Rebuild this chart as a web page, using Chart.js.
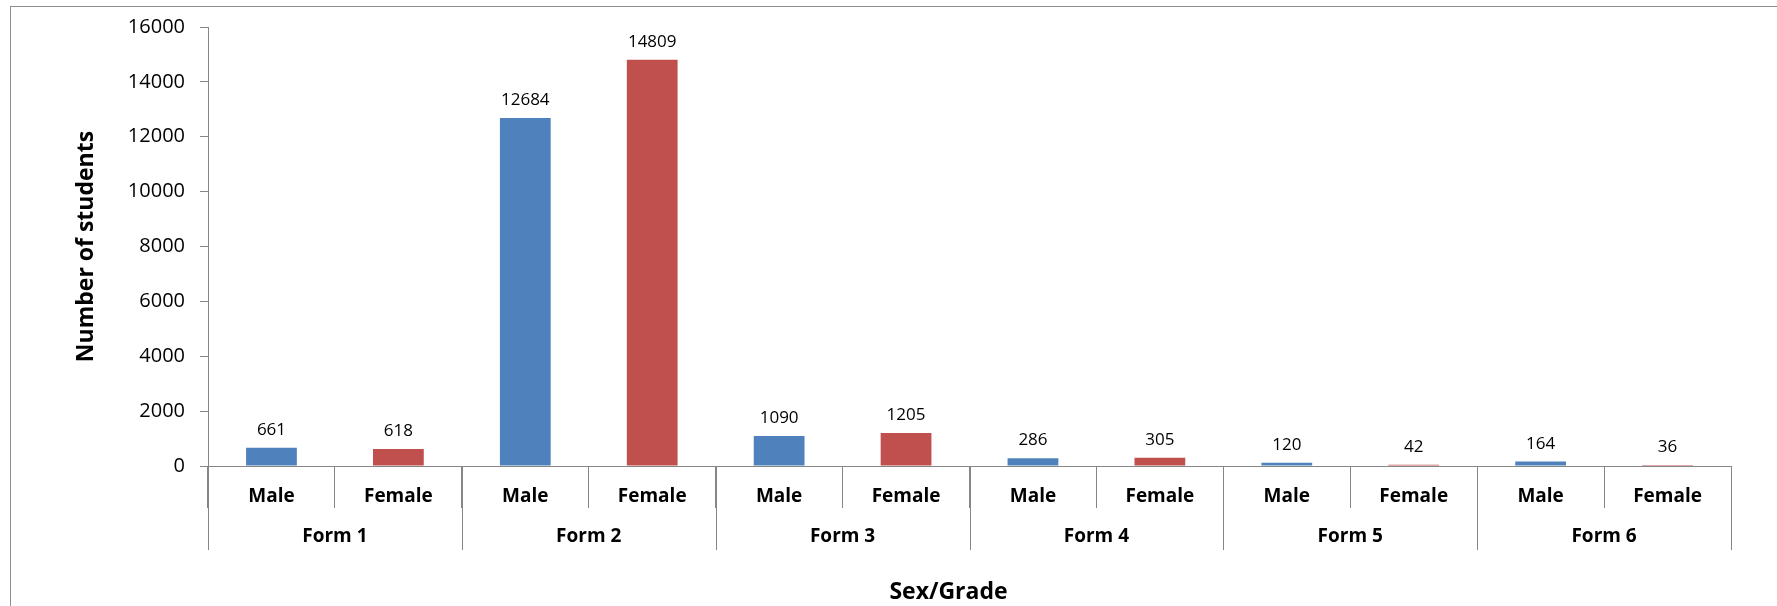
<!DOCTYPE html>
<html lang="en">
<head>
    <meta charset="UTF-8">
    <title>Students by sex and grade</title>
    <script src="https://cdn.jsdelivr.net/npm/chart.js@4.4.0/dist/chart.umd.min.js"></script>
    <style>
        body { margin: 0; overflow: hidden; background: #fff; }
        .frame { position: absolute; left: 10px; top: 6px; width: 1900px; height: 800px; border: 1.5px solid #8e8e8e; }
        .wrap { position: absolute; left: 0; top: 0; width: 1777px; height: 606px; }
    </style>
</head>
<body>
    <div class="frame"></div>
    <div class="wrap">
        <canvas id="chart-students"></canvas>
    </div>

    <script>
        const forms = ['Form 1', 'Form 2', 'Form 3', 'Form 4', 'Form 5', 'Form 6'];
        const sexes = ['Male', 'Female'];
        // male, female per form
        const students = [661, 618, 12684, 14809, 1090, 1205, 286, 305, 120, 42, 164, 36];
        const yTicks = [0, 2000, 4000, 6000, 8000, 10000, 12000, 14000, 16000];

        const sexColors = { Male: '#4f81bd', Female: '#c0504d' };
        const labels = [];
        forms.forEach(() => sexes.forEach(s => labels.push(s)));

        const font = '"Open Sans", "Liberation Sans", sans-serif';
        const axisGrey = '#868686';

        // bar values, the form row under the sex labels and the x title
        const extras = {
            id: 'extras',
            afterDraw(chart) {
                const ctx = chart.ctx;
                const x = chart.scales.x;
                const area = chart.chartArea;
                ctx.save();

                ctx.fillStyle = '#000';
                ctx.textAlign = 'center';
                ctx.textBaseline = 'alphabetic';
                ctx.font = '17px ' + font;
                chart.getDatasetMeta(0).data.forEach((bar, i) => {
                    ctx.fillText(students[i], bar.x, bar.y - 13);
                });

                const groupW = x.width / forms.length;
                ctx.strokeStyle = axisGrey;
                ctx.lineWidth = 1;
                ctx.beginPath();
                for (let g = 0; g <= forms.length; g++) {
                    const px = Math.round(x.left + g * groupW) + 0.5;
                    ctx.moveTo(px, x.top);
                    ctx.lineTo(px, x.top + 84);
                }
                ctx.stroke();

                ctx.font = 'bold 19px ' + font;
                ctx.textBaseline = 'middle';
                forms.forEach((f, g) => {
                    ctx.fillText(f, x.left + (g + 0.5) * groupW, x.top + 71);
                });

                ctx.font = 'bold 23px ' + font;
                ctx.fillText('Sex/Grade', (area.left + area.right) / 2 - 21, x.top + 126);
                ctx.restore();
            }
        };

        const ctx = document.getElementById('chart-students').getContext('2d');
        const myChart = new Chart(ctx, {
            type: 'bar',
            data: {
                labels: labels,
                datasets: [{
                    data: students,
                    backgroundColor: labels.map(s => sexColors[s]),
                    borderWidth: 0,
                    barPercentage: 0.4,
                    categoryPercentage: 1.0
                }]
            },
            options: {
                responsive: true,
                maintainAspectRatio: false,
                animation: false,
                layout: { padding: { left: 0, top: 26, right: 46, bottom: 0 } },
                plugins: {
                    legend: { display: false },
                    tooltip: { enabled: false }
                },
                scales: {
                    x: {
                        afterFit: (scale) => { scale.height = 140; },
                        grid: {
                            offset: true,
                            drawOnChartArea: false,
                            tickLength: 42,
                            color: axisGrey
                        },
                        border: { color: axisGrey },
                        ticks: {
                            color: '#000',
                            padding: -23,
                            maxRotation: 0,
                            autoSkip: false,
                            font: { family: font, size: 19, weight: 'bold' }
                        }
                    },
                    y: {
                        min: 0,
                        max: 16000,
                        afterFit: (scale) => { scale.width = 208; },
                        afterBuildTicks: (scale) => { scale.ticks = yTicks.map(v => ({ value: v })); },
                        grid: {
                            drawOnChartArea: false,
                            tickLength: 8,
                            color: axisGrey
                        },
                        border: { color: axisGrey },
                        ticks: {
                            color: '#000',
                            padding: 15,
                            callback: (v) => String(v),
                            font: { family: font, size: 20 }
                        },
                        title: {
                            display: true,
                            text: 'Number of students',
                            color: '#000',
                            padding: { top: 73 },
                            font: { family: font, size: 23, weight: 'bold' }
                        }
                    }
                }
            },
            plugins: [extras]
        });
    </script>
</body>
</html>
